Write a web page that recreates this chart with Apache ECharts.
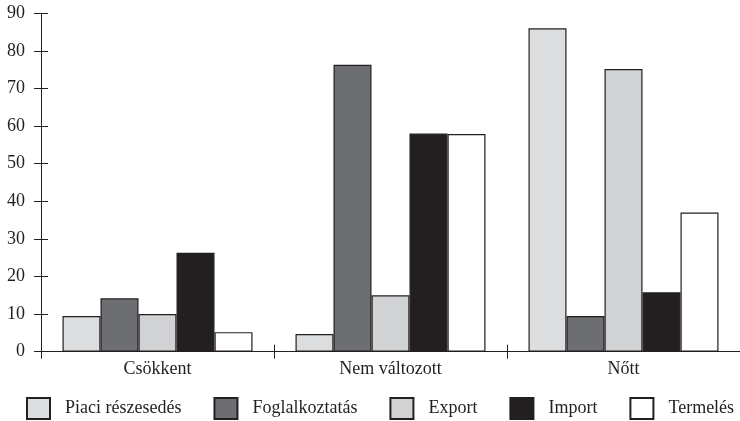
<!DOCTYPE html>
<html lang="hu">
<head>
<meta charset="UTF-8">
<title>Változás</title>
<script type="text/javascript" src="https://cdn.jsdelivr.net/npm/echarts@6/dist/echarts.min.js"></script>
<style type="text/css">
	html, body { margin:0; padding:0; background:#fff; }
	#chart { width:740px; height:421px; }
</style>
</head>
<body>
<div id="chart"></div>
<script type="text/javascript">
	// adatok
	var categories = ['Csökkent', 'Nem változott', 'Nőtt'];
	var seriesNames = ['Piaci részesedés', 'Foglalkoztatás', 'Export', 'Import', 'Termelés'];
	var piaci = [9.5, 4.7, 86];
	var foglalkoztatas = [14.2, 76.3, 9.5];
	var exportData = [10, 15, 75.2];
	var importData = [26.3, 58, 15.8];
	var termeles = [5.2, 57.9, 37];
	var yTicks = [0, 90, 10]; // min, max, interval

	var colors = ['#dcdddf', '#6d6e71', '#d1d2d4', '#231f20', '#ffffff'];
	var values = [piaci, foglalkoztatas, exportData, importData, termeles];
	var ink = '#231f20';
	var font = '"Liberation Serif", "Times New Roman", serif';

	var series = [];
	for (var i = 0; i < seriesNames.length; i++) {
		series.push({
			name: seriesNames[i],
			type: 'bar',
			data: values[i],
			barWidth: 38,
			barGap: 0,
			itemStyle: { color: colors[i], borderColor: ink, borderWidth: 1.2 }
		});
	}

	var chart = echarts.init(document.getElementById('chart'), null, { renderer: 'canvas' });
	var option = {
		animation: false,
		textStyle: { fontFamily: font, color: ink },
		grid: { left: 41, top: 13.3, width: 703, height: 338.4 },
		legend: {
			left: 26,
			top: 397,
			padding: 0,
			itemWidth: 23,
			itemHeight: 21,
			itemGap: 32,
			icon: 'rect',
			textStyle: { fontFamily: font, fontSize: 18, color: ink, padding: [0, 0, 0, 10] },
			data: seriesNames
		},
		xAxis: [{
			type: 'category',
			data: categories,
			axisLine: { lineStyle: { color: ink, width: 1 } },
			axisTick: { show: true, length: 7, lineStyle: { color: ink } },
			axisLabel: { fontFamily: font, fontSize: 18, color: ink, margin: 9 }
		}, {
			// csak a tengelyen átnyúló osztásjelekhez
			type: 'category',
			position: 'bottom',
			data: categories,
			axisLine: { show: false },
			axisTick: { show: true, inside: true, length: 7, lineStyle: { color: ink } },
			axisLabel: { show: false }
		}],
		yAxis: [{
			type: 'value',
			min: yTicks[0],
			max: yTicks[1],
			interval: yTicks[2],
			splitLine: { show: false },
			axisLine: { show: true, lineStyle: { color: ink, width: 1 } },
			axisTick: { show: true, length: 7, lineStyle: { color: ink } },
			axisLabel: { fontFamily: font, fontSize: 18, color: ink, margin: 16 }
		}, {
			type: 'value',
			position: 'left',
			min: yTicks[0],
			max: yTicks[1],
			interval: yTicks[2],
			splitLine: { show: false },
			axisLine: { show: false },
			axisTick: { show: true, inside: true, length: 7, lineStyle: { color: ink } },
			axisLabel: { show: false }
		}],
		series: series
	};
	chart.setOption(option, true);
</script>
</body>
</html>
